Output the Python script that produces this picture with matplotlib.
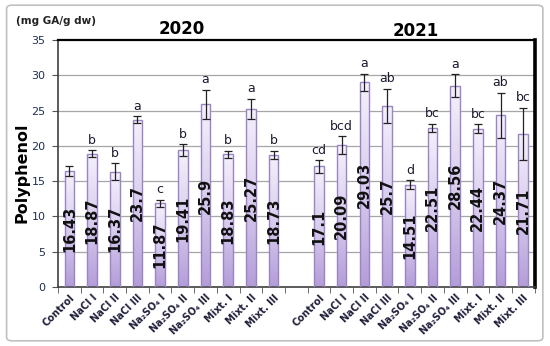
import matplotlib
matplotlib.use("Agg")
import matplotlib.pyplot as plt
import numpy as np
from matplotlib.colors import LinearSegmentedColormap
from matplotlib.patches import FancyBboxPatch

treatments = ["Control", "NaCl I", "NaCl II", "NaCl III", "Na₂SO₄ I", "Na₂SO₄ II",
              "Na₂SO₄ III", "Mixt. I", "Mixt. II", "Mixt. III"]
values_2020 = [16.43, 18.87, 16.37, 23.7, 11.87, 19.41, 25.9, 18.83, 25.27, 18.73]
errors_2020 = [0.7, 0.5, 1.2, 0.5, 0.5, 0.8, 2.1, 0.5, 1.4, 0.6]
letters_2020 = ["", "b", "b", "a", "c", "b", "a", "b", "a", "b"]
values_2021 = [17.1, 20.09, 29.03, 25.7, 14.51, 22.51, 28.56, 22.44, 24.37, 21.71]
errors_2021 = [0.9, 1.3, 1.2, 2.4, 0.6, 0.6, 1.6, 0.6, 3.2, 3.7]
letters_2021 = ["cd", "bcd", "a", "ab", "d", "bc", "a", "bc", "ab", "bc"]
years = ["2020", "2021"]

fig = plt.figure(figsize=(5.5, 3.46), dpi=100)
fig.patch.set_facecolor("white")
border = FancyBboxPatch((0.012, 0.015), 0.975, 0.97, boxstyle="round,pad=0,rounding_size=0.01",
                        transform=fig.transFigure, fill=False, edgecolor="#c0c0c0", lw=1.2)
fig.patches.append(border)

ax = fig.add_axes([0.1055, 0.1705, 0.8665, 0.7135])

x20 = np.arange(len(treatments))
x21 = np.arange(len(treatments)) + len(treatments) + 1
xs = np.concatenate([x20, x21])
vals = values_2020 + values_2021
errs = errors_2020 + errors_2021
lets = letters_2020 + letters_2021
labels = treatments + [""] + treatments
label_pos = np.arange(2 * len(treatments) + 1)

ax.set_xlim(-0.5, 2 * len(treatments) + 0.5)
ax.set_ylim(0, 35)
ax.set_yticks(np.arange(0, 36, 5))
for yv in range(5, 35, 5):
    ax.axhline(yv, color="#a6a6a6", lw=0.9, zorder=0)

cmap = LinearSegmentedColormap.from_list("g", ["#b39dd8", "#d9cdee", "#f5f1fb"])
grad = np.linspace(0, 1, 256).reshape(-1, 1)
bars = ax.bar(xs, vals, width=0.42, color="none", edgecolor="#9a84c4", lw=1.0, zorder=3)
for b in bars:
    x0, y0 = b.get_x(), b.get_y()
    w, h = b.get_width(), b.get_height()
    im = ax.imshow(grad, cmap=cmap, aspect="auto", origin="lower",
                   extent=[x0, x0 + w, y0, y0 + h], zorder=2)
    im.set_clip_path(b)

ax.errorbar(xs, vals, yerr=errs, fmt="none", ecolor="#222222", elinewidth=0.9,
            capsize=3, capthick=0.9, zorder=4)

for x, v, e, l in zip(xs, vals, errs, lets):
    ax.text(x, v / 2, f"{v:g}", rotation=90, ha="center", va="center",
            fontsize=10.5, fontweight="bold", color="#111111", zorder=5)
    if l:
        ax.text(x, v + e + 0.5, l, ha="center", va="bottom", fontsize=9,
                color="#1a1a2e", zorder=5)

ax.set_xticks(label_pos)
ax.set_xticklabels(labels, rotation=45, ha="right", rotation_mode="anchor",
                   fontsize=7, fontweight="bold", color="#1f1f3a")
ax.tick_params(axis="x", length=0, pad=4)
ax.set_xticks(np.arange(-0.5, 2 * len(treatments) + 1, 1), minor=True)
ax.tick_params(axis="x", which="minor", length=4, color="#555555", direction="out")
ax.tick_params(axis="y", labelsize=8, colors="#1f2f4f", length=4, direction="out", pad=5)
ax.tick_params(axis="y", color="#555555")

for s in ["left", "bottom"]:
    ax.spines[s].set_color("#404040")
    ax.spines[s].set_linewidth(1.2)
ax.spines["top"].set_color("black")
ax.spines["top"].set_linewidth(1.6)
ax.spines["right"].set_color("black")
ax.spines["right"].set_linewidth(2.6)

fig.text(0.04, 0.5, "Polyphenol", rotation=90, ha="center", va="center",
         fontsize=11.5, fontweight="bold", color="black")
fig.text(0.03, 0.94, "(mg GA/g dw)", ha="left", va="center", fontsize=7.5,
         fontweight="bold", color="#222222")
fig.text(0.33, 0.915, years[0], ha="center", va="center", fontsize=12,
         fontweight="bold")
fig.text(0.755, 0.91, years[1], ha="center", va="center", fontsize=12,
         fontweight="bold")

fig.savefig("out.png", dpi=100, facecolor="white")
